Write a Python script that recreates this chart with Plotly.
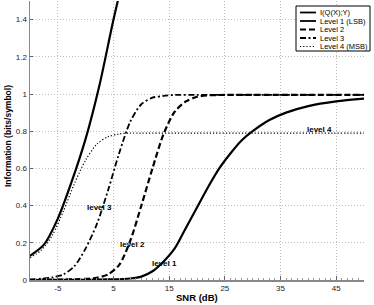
import plotly.graph_objects as go

# ---- data ----
snr_I = [-10, -7.5, -5, -2.5, 0, 2.5, 5, 7.5]
info_I = [0.13, 0.19, 0.33, 0.53, 0.76, 1.05, 1.4, 1.72]

snr_L1 = [-10, -5, 0, 4, 8, 10, 12, 14, 16, 18, 20, 22, 24, 26, 28, 30, 33, 36, 40, 45, 50]
info_L1 = [0, 0.0005, 0.001, 0.003, 0.008, 0.018, 0.047, 0.1, 0.17, 0.28, 0.39, 0.5, 0.6, 0.68,
           0.75, 0.8, 0.86, 0.9, 0.935, 0.96, 0.975]

snr_L2 = [-10, -5, 0, 2, 4, 6, 8, 10, 12, 14, 16, 18, 20, 22, 25, 30, 40, 50]
info_L2 = [0.0, 0.002, 0.006, 0.012, 0.03, 0.08, 0.21, 0.4, 0.6, 0.785, 0.905, 0.96, 0.985,
           0.993, 0.995, 0.995, 0.995, 0.995]

snr_L3 = [-10, -8, -6, -4, -2, 0, 2, 4, 6, 8, 10, 12, 14, 16, 20, 30, 40, 50]
info_L3 = [0.003, 0.007, 0.014, 0.03, 0.075, 0.17, 0.3, 0.48, 0.68, 0.85, 0.945, 0.98, 0.99,
           0.995, 0.995, 0.995, 0.995, 0.995]

snr_L4 = [-10, -8, -6, -4, -2, 0, 2, 4, 6, 8, 10, 20, 30, 40, 50]
info_L4 = [0.12, 0.16, 0.24, 0.37, 0.52, 0.645, 0.73, 0.77, 0.785, 0.79, 0.79, 0.79, 0.79, 0.79, 0.79]

legend_labels = ["I(Q(X);Y)", "Level 1 (LSB)", "Level 2", "Level 3", "Level 4 (MSB)"]
curve_labels = ["level 1", "level 2", "level 3", "level 4"]
curve_label_x = [14.25, 8.5, 2.4, 42]
curve_label_y = [0.09, 0.19, 0.39, 0.81]

x_ticks = [-5, 5, 15, 25, 35, 45]
y_ticks = [0, 0.2, 0.4, 0.6, 0.8, 1.0, 1.2, 1.4]

# ---- figure ----
FONT = "Liberation Sans, Arial, Helvetica, sans-serif"
W, H = 374, 305
ML, MR, MT, MB = 30, 10, 1, 25
PW, PH = W - ML - MR, H - MT - MB

series = [
    (snr_I, info_I, "solid", 2.2),
    (snr_L1, info_L1, "solid", 2.2),
    (snr_L2, info_L2, "6px,3px", 2.2),
    (snr_L3, info_L3, "6px,2.5px,2px,2.5px", 1.8),
    (snr_L4, info_L4, "1.2px,2px", 1.2),
]

fig = go.Figure()
for (xs, ys, dash, w), name in zip(series, legend_labels):
    fig.add_trace(go.Scatter(
        x=xs, y=ys, mode="lines", name=name,
        line=dict(color="black", width=w, dash=dash, shape="spline", smoothing=0.8),
        showlegend=False,
    ))

for t, lx, ly in zip(curve_labels, curve_label_x, curve_label_y):
    fig.add_annotation(x=lx, y=ly, text="<b>" + t + "</b>", showarrow=False,
                       font=dict(family=FONT, size=8, color="black"))

# manual compact legend (pixel layout converted to paper coords)
def px(xp):
    return (xp - ML) / PW

def py(yp):
    return (H - MB - yp) / PH

fig.add_shape(type="rect", xref="paper", yref="paper",
              x0=px(296), x1=px(370), y0=py(51), y1=py(6),
              line=dict(color="black", width=1), fillcolor="white", layer="above")
for i, ((xs, ys, dash, w), name) in enumerate(zip(series, legend_labels)):
    yc = 12.5 + i * 8.5
    fig.add_shape(type="line", xref="paper", yref="paper",
                  x0=px(300), x1=px(316), y0=py(yc), y1=py(yc),
                  line=dict(color="black", width=min(w, 1.8), dash=dash), layer="above")
    fig.add_annotation(xref="paper", yref="paper", x=px(318), y=py(yc),
                       text=name, showarrow=False, xanchor="left", yanchor="middle",
                       font=dict(family=FONT, size=7.5, color="black"))

# axis titles
fig.add_annotation(xref="paper", yref="paper", x=px(196.5), y=py(297), text="<b>SNR (dB)</b>",
                   showarrow=False, xanchor="center", yanchor="middle",
                   font=dict(family=FONT, size=9.5, color="black"))
fig.add_annotation(xref="paper", yref="paper", x=px(8), y=py(136),
                   text="<b>Information (bits/symbol)</b>", textangle=-90,
                   showarrow=False, xanchor="center", yanchor="middle",
                   font=dict(family=FONT, size=8.5, color="black"))

fig.update_layout(
    width=W, height=H,
    margin=dict(l=ML, r=MR, t=MT, b=MB),
    paper_bgcolor="white", plot_bgcolor="white",
    font=dict(family=FONT, size=8, color="#222"),
    showlegend=False,
)
fig.update_xaxes(
    range=[-10, 50], tickvals=x_ticks, ticktext=[str(v) for v in x_ticks],
    showgrid=True, gridcolor="#bdbdbd", griddash="1px,2px", gridwidth=1,
    showline=True, linecolor="#888", linewidth=1.5,
    ticks="inside", ticklen=4, tickcolor="#666", zeroline=False,
    minor=dict(dtick=1, ticks="inside", ticklen=2, tickcolor="#999", showgrid=False),
    tickfont=dict(family=FONT, size=8, color="#222"), automargin=False,
)
fig.update_yaxes(
    range=[0, 1.5], tickvals=y_ticks,
    ticktext=["0", "0.2", "0.4", "0.6", "0.8", "1", "1.2", "1.4"],
    showgrid=True, gridcolor="#bdbdbd", griddash="1px,2px", gridwidth=1,
    showline=True, linecolor="#888", linewidth=1.5,
    ticks="inside", ticklen=3, tickcolor="#666", zeroline=False,
    tickfont=dict(family=FONT, size=8, color="#222"), automargin=False,
)

fig.write_html(
    "out.html",
    config={"displayModeBar": False, "staticPlot": True},
    post_script="document.body.style.margin='0';document.body.style.overflow='hidden';",
)
